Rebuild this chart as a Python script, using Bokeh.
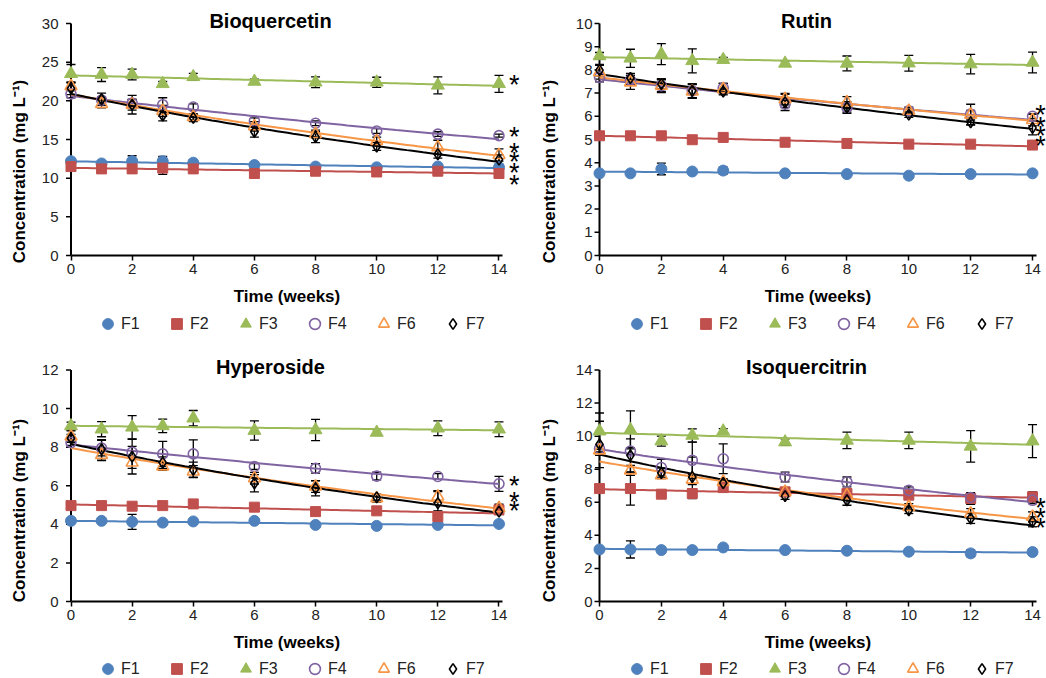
import numpy as np
from bokeh.plotting import figure
from bokeh.models import (Range1d, ColumnDataSource, Whisker, TeeHead, Legend,
                          LegendItem, Label, FixedTicker)
from bokeh.layouts import row, column
from bokeh.embed import file_html
from bokeh.resources import INLINE
from bokeh.core.properties import value

# ---------------- data ----------------
weeks = [0, 1, 2, 3, 4, 6, 8, 10, 12, 14]
week_ticks = [0, 2, 4, 6, 8, 10, 12, 14]
series_names = ["F1", "F2", "F3", "F4", "F6", "F7"]

# Bioquercetin
bio_F1 = [12.2, 11.9, 12.2, 12.2, 12.0, 11.7, 11.5, 11.4, 11.5, 11.4]
bio_F2 = [11.5, 11.2, 11.2, 11.3, 11.2, 10.6, 10.9, 10.8, 10.9, 10.6]
bio_F3 = [23.5, 23.4, 23.4, 22.2, 23.1, 22.5, 22.4, 22.4, 22.0, 22.2]
bio_F4 = [20.9, 20.1, 19.7, 19.5, 19.2, 17.4, 17.1, 16.1, 15.7, 15.5]
bio_F6 = [21.9, 19.6, 19.5, 18.7, 17.9, 16.7, 15.7, 14.8, 14.0, 13.0]
bio_F7 = [21.6, 20.2, 19.5, 18.1, 17.8, 16.0, 15.3, 14.1, 13.1, 12.4]
bio_F1_err = [0.3, 0.2, 0.7, 0.6, 0.4, 0.2, 0.2, 0.2, 0.2, 0.2]
bio_F2_err = [0.3, 0.3, 0.3, 0.8, 0.3, 0.3, 0.3, 0.3, 0.3, 0.3]
bio_F3_err = [1.2, 0.9, 0.7, 0.3, 0.45, 0.3, 0.7, 0.65, 1.1, 1.1]
bio_F4_err = [0.5, 0.4, 0.5, 0.9, 0.4, 0.4, 0.3, 0.3, 0.3, 0.2]
bio_F6_err = [0.5, 0.5, 0.7, 0.7, 0.4, 0.6, 0.5, 0.5, 0.9, 0.8]
bio_F7_err = [0.8, 0.8, 1.2, 0.7, 0.5, 0.7, 0.7, 0.5, 0.5, 0.6]
bio_sig = [22.4, 15.7, 13.65, 12.5, 11.05, 9.5]

# Rutin
rut_F1 = [3.54, 3.54, 3.73, 3.62, 3.66, 3.54, 3.51, 3.44, 3.51, 3.54]
rut_F2 = [5.16, 5.16, 5.16, 4.99, 5.09, 4.88, 4.83, 4.80, 4.80, 4.76]
rut_F3 = [8.60, 8.50, 8.68, 8.39, 8.44, 8.28, 8.28, 8.29, 8.25, 8.32]
rut_F4 = [7.68, 7.56, 7.32, 7.10, 7.22, 6.53, 6.38, 6.24, 6.10, 6.00]
rut_F6 = [7.90, 7.46, 7.32, 7.07, 7.17, 6.74, 6.60, 6.24, 6.07, 5.84]
rut_F7 = [7.99, 7.65, 7.39, 7.10, 7.07, 6.60, 6.38, 6.07, 5.74, 5.50]
rut_F1_err = [0.05, 0.05, 0.25, 0.08, 0.15, 0.05, 0.05, 0.05, 0.05, 0.05]
rut_F2_err = [0.08, 0.08, 0.08, 0.08, 0.08, 0.08, 0.08, 0.08, 0.08, 0.08]
rut_F3_err = [0.15, 0.39, 0.45, 0.52, 0.10, 0.10, 0.32, 0.34, 0.42, 0.45]
rut_F4_err = [0.20, 0.20, 0.25, 0.30, 0.20, 0.15, 0.20, 0.10, 0.15, 0.10]
rut_F6_err = [0.30, 0.30, 0.30, 0.30, 0.25, 0.25, 0.25, 0.15, 0.45, 0.25]
rut_F7_err = [0.25, 0.20, 0.20, 0.30, 0.10, 0.35, 0.25, 0.12, 0.10, 0.30]
rut_sig = [6.17, 5.67, 5.27, 4.84]

# Hyperoside
hyp_F1 = [4.18, 4.18, 4.13, 4.09, 4.15, 4.18, 3.97, 3.92, 3.97, 4.02]
hyp_F2 = [4.97, 4.97, 4.94, 4.97, 5.06, 4.89, 4.66, 4.70, 4.40, 4.75]
hyp_F3 = [9.10, 8.93, 9.03, 9.10, 9.50, 8.86, 8.89, 8.76, 8.98, 8.93]
hyp_F4 = [8.24, 7.95, 7.74, 7.65, 7.65, 7.00, 6.90, 6.50, 6.48, 6.10]
hyp_F6 = [8.55, 7.60, 7.20, 7.00, 6.74, 6.39, 5.96, 5.35, 5.44, 4.84]
hyp_F7 = [8.46, 7.89, 7.51, 7.20, 6.82, 6.13, 5.87, 5.40, 5.10, 4.66]
hyp_F1_err = [0.08, 0.08, 0.39, 0.10, 0.10, 0.08, 0.10, 0.08, 0.10, 0.08]
hyp_F2_err = [0.10, 0.15, 0.12, 0.15, 0.10, 0.15, 0.12, 0.10, 0.30, 0.20]
hyp_F3_err = [0.20, 0.39, 0.60, 0.35, 0.40, 0.50, 0.55, 0.15, 0.38, 0.38]
hyp_F4_err = [0.15, 0.40, 0.30, 0.65, 0.73, 0.15, 0.25, 0.20, 0.15, 0.39]
hyp_F6_err = [0.30, 0.30, 0.30, 0.20, 0.30, 0.30, 0.30, 0.20, 0.30, 0.20]
hyp_F7_err = [0.20, 0.50, 0.90, 0.30, 0.40, 0.45, 0.40, 0.15, 0.60, 0.15]
hyp_sig = [6.16, 5.30, 4.84]

# Isoquercitrin
iso_F1 = [3.15, 3.15, 3.11, 3.11, 3.27, 3.11, 3.07, 3.01, 2.91, 2.99]
iso_F2 = [6.83, 6.83, 6.49, 6.53, 6.89, 6.63, 6.53, 6.43, 6.23, 6.33]
iso_F3 = [10.30, 10.38, 9.70, 10.04, 10.30, 9.64, 9.74, 9.74, 9.38, 9.70]
iso_F4 = [9.24, 9.10, 8.10, 8.54, 8.63, 7.53, 7.23, 6.73, 6.29, 6.12]
iso_F6 = [9.14, 7.93, 7.63, 7.37, 7.23, 6.63, 6.43, 5.72, 5.32, 5.12]
iso_F7 = [9.50, 8.84, 7.77, 7.53, 7.17, 6.37, 6.12, 5.52, 5.02, 4.82]
iso_F1_err = [0.10, 0.52, 0.10, 0.10, 0.10, 0.10, 0.10, 0.10, 0.20, 0.20]
iso_F2_err = [0.15, 1.00, 0.10, 0.30, 0.15, 0.20, 0.15, 0.15, 0.35, 0.30]
iso_F3_err = [1.10, 1.15, 0.30, 0.40, 0.15, 0.20, 0.50, 0.50, 0.95, 1.00]
iso_F4_err = [0.20, 0.20, 0.50, 1.10, 0.90, 0.30, 0.30, 0.20, 0.20, 0.20]
iso_F6_err = [0.30, 0.30, 0.20, 0.30, 0.20, 0.20, 0.20, 0.20, 0.30, 0.30]
iso_F7_err = [1.40, 1.00, 0.30, 1.20, 0.20, 0.20, 0.30, 0.20, 0.30, 0.30]
iso_sig = [5.83, 5.22, 4.62]

# ---------------- styles ----------------
FONT = "Liberation Sans"
STYLE = {
    "F1": dict(marker="circle", color="#4F81BD", fill=True, size=11),
    "F2": dict(marker="square", color="#C0504D", fill=True, size=10),
    "F3": dict(marker="triangle", color="#9BBB59", fill=True, size=13),
    "F4": dict(marker="circle", color="#8064A2", fill=False, size=10),
    "F6": dict(marker="triangle", color="#F79646", fill=False, size=12),
    "F7": dict(marker="diamond", color="#000000", fill=False, size=11),
}


def make_panel(title, ymax, ystep, vals, errs, sig_y, side, row_idx):
    W, H, T = 523, 339, 3
    if side == "left":
        x0px, ppux, L = 70.5, 30.57, 59
        title_cx, tick_std, lab_std, sig_x, leg_vx = 270, 1, 10, 14.5, 35
    else:
        x0px, ppux, L = 76.0, 30.93, 69
        title_cx, tick_std, lab_std, sig_x, leg_vx = 283, 0, 14, 14.26, 31
    if row_idx == 0:
        bot_px, top_px, title_cy, leg_vy = 255, 23.0, 20, 2
    else:
        bot_px, top_px, title_cy, leg_vy = 262, 30.5, 27, -4
    fh = H - T
    fw = W - L
    ppuy = (bot_px - top_px) / ymax
    x_start = (L - x0px) / ppux
    x_end = x_start + fw / ppux
    y_start = -(H - bot_px) / ppuy
    y_end = (bot_px - T) / ppuy

    p = figure(frame_width=fw, frame_height=fh, min_border_left=L, min_border_right=0,
               min_border_top=T, min_border_bottom=0,
               x_range=Range1d(x_start, x_end), y_range=Range1d(y_start, y_end),
               output_backend="svg", toolbar_location=None)
    p.outline_line_color = None
    p.xgrid.visible = False
    p.ygrid.visible = False
    p.background_fill_color = "white"
    p.border_fill_color = "white"

    # axes
    for ax in (p.xaxis[0], p.yaxis[0]):
        ax.axis_line_width = 2
        ax.axis_line_color = "black"
        ax.major_tick_line_width = 1.5
        ax.major_tick_in = 0
        ax.major_tick_out = 5
        ax.minor_tick_line_color = None
        ax.major_label_text_font = FONT
        ax.major_label_text_font_size = "15px"
        ax.major_label_text_color = "#222222"
        ax.axis_label_text_font = FONT
        ax.axis_label_text_font_size = "17px"
        ax.axis_label_text_font_style = "bold"
        ax.axis_label_text_color = "black"
    p.xaxis.ticker = FixedTicker(ticks=week_ticks)
    p.xaxis.bounds = (0, 14.12)
    p.xaxis.fixed_location = 0
    p.xaxis.axis_label = "Time (weeks)"
    p.xaxis.major_label_standoff = 3
    p.xaxis.axis_label_standoff = 10
    yt = [float(v) for v in np.arange(0, ymax + ystep / 2, ystep)]
    p.yaxis.ticker = FixedTicker(ticks=yt)
    p.yaxis.bounds = (0, ymax)
    p.yaxis.axis_line_color = None
    p.yaxis.major_tick_line_color = None
    p.yaxis.major_tick_out = 0
    p.yaxis.axis_label = "Concentration (mg L\u207B\u00B9)"
    p.yaxis.major_label_standoff = tick_std
    p.yaxis.axis_label_standoff = lab_std

    # y axis line at x = 0 and its outward ticks
    p.segment(x0=[0], y0=[0], x1=[0], y1=[ymax], line_color="black", line_width=2)
    p.segment(x0=[-5 / ppux] * len(yt), y0=yt, x1=[0] * len(yt), y1=yt,
              line_color="black", line_width=1.5)

    # trend lines (exponential fit, as Excel trendline)
    tt = np.linspace(0, 14, 80)
    for s in series_names:
        y = np.array(vals[s], dtype=float)
        b, a = np.polyfit(np.array(weeks, dtype=float), np.log(y), 1)
        p.line(tt, np.exp(a) * np.exp(b * tt), line_color=STYLE[s]["color"], line_width=2)

    # markers
    items = []
    for s in series_names:
        st = STYLE[s]
        src = ColumnDataSource(dict(x=weeks, y=vals[s]))
        r = p.scatter("x", "y", source=src, marker=st["marker"], size=st["size"],
                      line_color=st["color"], line_width=1.6 if not st["fill"] else 1,
                      fill_color=st["color"] if st["fill"] else None)
        items.append(LegendItem(label=s, renderers=[r]))

    # error bars
    for s in series_names:
        y = np.array(vals[s]); e = np.array(errs[s])
        src = ColumnDataSource(dict(x=weeks, upper=y + e, lower=y - e))
        w = Whisker(source=src, base="x", upper="upper", lower="lower", dimension="height",
                    line_color="black", line_width=1.3,
                    upper_head=TeeHead(size=9, line_color="black", line_width=1.3),
                    lower_head=TeeHead(size=9, line_color="black", line_width=1.3))
        p.add_layout(w)

    # significance asterisks
    p.text(x=[sig_x] * len(sig_y), y=sig_y, text=["*"] * len(sig_y),
           text_font=value(FONT), text_font_size="27px", text_align="center",
           text_baseline="middle", text_color="black", y_offset=3)

    # title
    p.add_layout(Label(x=(title_cx - x0px) / ppux, y=(bot_px - title_cy) / ppuy,
                       text=title, text_font=FONT, text_font_size="20px",
                       text_font_style="bold", text_align="center",
                       text_baseline="middle", text_color="black"))

    legend = Legend(items=items, location=(leg_vx, leg_vy), orientation="horizontal",
                    glyph_width=27, glyph_height=27, label_standoff=0, spacing=22,
                    padding=0, margin=0, border_line_color=None,
                    background_fill_alpha=0, label_text_font=FONT,
                    label_text_font_size="16px", label_text_color="#222222")
    p.add_layout(legend)
    return p


def pack(prefix):
    g = globals()
    v = {s: g[f"{prefix}_{s}"] for s in series_names}
    e = {s: g[f"{prefix}_{s}_err"] for s in series_names}
    return v, e


bv, be = pack("bio")
rv, re_ = pack("rut")
hv, he = pack("hyp")
iv, ie = pack("iso")

p1 = make_panel("Bioquercetin", 30, 5, bv, be, bio_sig, "left", 0)
p2 = make_panel("Rutin", 10, 1, rv, re_, rut_sig, "right", 0)
p3 = make_panel("Hyperoside", 12, 2, hv, he, hyp_sig, "left", 1)
p4 = make_panel("Isoquercitrin", 14, 2, iv, ie, iso_sig, "right", 1)

layout = column(row(p1, p2), row(p3, p4))
open("out.html", "w").write(file_html(layout, INLINE))
